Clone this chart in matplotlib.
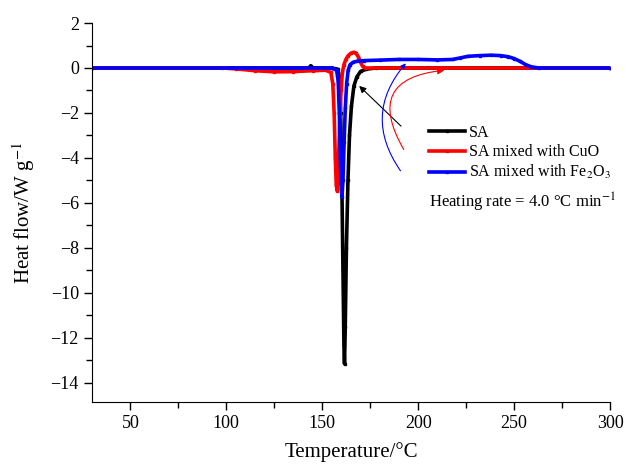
import numpy as np
import matplotlib
matplotlib.use("Agg")
import matplotlib.pyplot as plt
from matplotlib.ticker import MultipleLocator

plt.rcParams["font.family"] = ["Liberation Serif", "DejaVu Serif"]
plt.rcParams["mathtext.fontset"] = "stix"

# --------- data (T in degC, heat flow in W/g) ----------------------------------
t_sa = [30, 140, 143, 144, 145, 148, 155, 158, 159, 159.6, 160.2, 160.8, 161.3, 161.6,
        162.0, 162.6, 163.4, 164.2, 165.2, 166.5, 168, 170, 173, 178, 300]
hf_sa = [0, 0, 0, 0.1, 0, 0, 0, -0.05, -0.4, -2, -5, -9, -12.3, -13.15,
         -11.5, -8, -5, -3, -1.7, -0.8, -0.4, -0.15, -0.05, 0, 0]

t_cuo = [30, 98, 105, 115, 125, 135, 145, 152, 154.5, 155.5, 156.2, 156.8, 157.3, 157.7,
         158.1, 158.6, 159.2, 159.8, 160.5, 161.3, 162.3, 163.5, 165, 166.3, 167.5,
         168.8, 170, 171, 172.5, 300]
hf_cuo = [0, 0, -0.04, -0.12, -0.17, -0.16, -0.12, -0.1, -0.2, -0.7, -2, -4, -5.2, -5.45,
          -5.1, -3.8, -2.2, -1.0, -0.2, 0.15, 0.38, 0.55, 0.66, 0.7, 0.66,
          0.5, 0.25, 0.08, 0, 0]

t_fe = [30, 155, 157.5, 158.3, 158.9, 159.4, 159.9, 160.3, 160.8, 161.4, 162.0, 162.7,
        163.5, 164.5, 166, 168, 172, 180, 190, 200, 210, 218, 222, 226, 232, 238, 243,
        247, 250, 253, 256, 259, 263, 300]
hf_fe = [0, 0, -0.1, -0.6, -2, -4, -5.4, -5.72, -5.0, -3.3, -1.8, -0.7,
         -0.1, 0.15, 0.25, 0.3, 0.33, 0.35, 0.38, 0.38, 0.36, 0.38, 0.45, 0.52, 0.55, 0.57, 0.55,
         0.5, 0.42, 0.3, 0.15, 0.05, 0, 0]

labels = ["SA", "SA mixed with CuO", "SA mixed with Fe$_2$O$_3$"]
colors = ["black", "red", "blue"]

fig = plt.figure(figsize=(6.27, 4.65), dpi=100)
ax = fig.add_axes([0.1467, 0.1355, 0.8263, 0.815])

for t, hf, lab, c in zip([t_sa, t_cuo, t_fe], [hf_sa, hf_cuo, hf_fe], labels, colors):
    ax.plot(t, hf, color=c, lw=2.6, marker="s", markersize=2, label=lab)

ax.set_xlim(30, 300)
ax.set_ylim(-14.85, 2)
ax.xaxis.set_major_locator(MultipleLocator(50))
ax.xaxis.set_minor_locator(MultipleLocator(25))
ax.yaxis.set_major_locator(MultipleLocator(2))
ax.yaxis.set_minor_locator(MultipleLocator(1))
ax.tick_params(which="both", direction="out", labelsize=13, width=1)
ax.tick_params(which="major", length=6)
ax.tick_params(which="minor", length=4)
ax.spines["top"].set_visible(False)
ax.spines["right"].set_visible(False)

ax.set_xlabel("Temperature/°C", fontsize=15, labelpad=7)
ax.set_ylabel("Heat flow/W g$^{-1}$", fontsize=15, labelpad=10)

# arrows linking the peaks to the legend
ax.annotate("", xy=(168.2, -0.71), xytext=(192.1, -2.67),
            arrowprops=dict(arrowstyle="-|>", color="black", lw=0.8, mutation_scale=10))
ax.annotate("", xy=(215.1, -0.09), xytext=(193.2, -3.73),
            arrowprops=dict(arrowstyle="-|>", color="red", lw=0.8, mutation_scale=10,
                            connectionstyle="arc3,rad=-0.8"))
ax.annotate("", xy=(194.5, 0.3), xytext=(191.6, -4.67),
            arrowprops=dict(arrowstyle="-|>", color="blue", lw=0.8, mutation_scale=7,
                            connectionstyle="arc3,rad=-0.4"))

ax.legend(loc="upper left", bbox_to_anchor=(0.639, 0.748), frameon=False, fontsize=11.5,
          handlelength=2.25, handletextpad=0.2, labelspacing=0.2, borderaxespad=0)
ax.text(0.65, 0.527, "Heating rate = 4.0 °C min$^{-1}$", transform=ax.transAxes,
        fontsize=12, va="center", ha="left")

fig.savefig("out.png", dpi=100)
